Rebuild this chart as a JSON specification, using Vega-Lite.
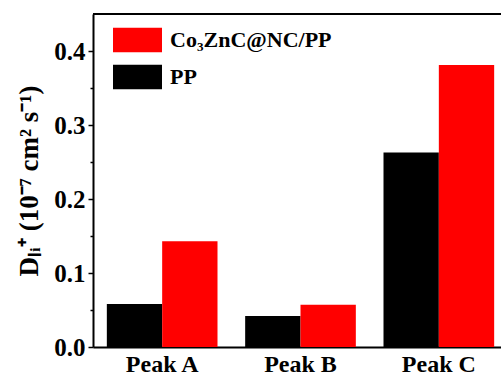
{
  "$schema": "https://vega.github.io/schema/vega-lite/v6.json",
  "autosize": {"type": "none"},
  "padding": {"left": 93, "top": 14, "right": 0, "bottom": 30},
  "width": 408,
  "height": 333,
  "background": "white",
  "config": {
    "view": {"stroke": null},
    "font": "Times New Roman, Liberation Serif, serif",
    "axis": {"labelFont": "Times New Roman, Liberation Serif, serif", "titleFont": "Times New Roman, Liberation Serif, serif", "labelFontWeight": "bold", "titleFontWeight": "bold", "labelColor": "black", "titleColor": "black", "domainColor": "black", "tickColor": "black", "grid": false}
  },
  "data": {
    "values": [
      {"peak": "Peak A", "sample": "PP", "D": 0.058},
      {"peak": "Peak A", "sample": "Co₃ZnC@NC/PP", "D": 0.143},
      {"peak": "Peak B", "sample": "PP", "D": 0.042},
      {"peak": "Peak B", "sample": "Co₃ZnC@NC/PP", "D": 0.057},
      {"peak": "Peak C", "sample": "PP", "D": 0.263},
      {"peak": "Peak C", "sample": "Co₃ZnC@NC/PP", "D": 0.381}
    ]
  },
  "layer": [
    {
      "mark": {"type": "bar"},
      "encoding": {
        "x": {
          "field": "peak", "type": "nominal",
          "scale": {"range": [0, 415], "paddingInner": 0.2, "paddingOuter": 0.1},
          "axis": {"title": null, "labelAngle": 0, "labelFontSize": 24, "ticks": false, "domainWidth": 2, "labelPadding": 5}
        },
        "xOffset": {"field": "sample", "type": "nominal", "sort": ["PP", "Co₃ZnC@NC/PP"]},
        "y": {
          "field": "D", "type": "quantitative",
          "scale": {"domain": [0, 0.45], "nice": false},
          "axis": {"values": [0, 0.1, 0.2, 0.3, 0.4], "format": ".1f", "labelFontSize": 25, "tickSize": 5, "tickWidth": 1.5, "domainWidth": 2, "labelPadding": 3,
            "title": "Dₗᵢ⁺ (10⁻⁷ cm² s⁻¹)", "titleFontSize": 27, "titlePadding": 10}
        },
        "color": {
          "field": "sample", "type": "nominal",
          "scale": {"domain": ["Co₃ZnC@NC/PP", "PP"], "range": ["#ff0000", "#000000"]},
          "legend": {
            "title": null, "orient": "none", "legendX": 20, "legendY": 1.5, "padding": 0,
            "symbolType": "M-1,-0.5H1V0.5H-1Z", "symbolSize": 2401, "symbolStrokeWidth": 0,
            "labelFont": "Times New Roman, Liberation Serif, serif", "labelFontWeight": "bold", "labelFontSize": 22, "labelColor": "black",
            "labelLimit": 400, "rowPadding": -16.5, "labelOffset": 8
          }
        }
      }
    },
    {
      "mark": {"type": "rule", "color": "black", "strokeWidth": 2},
      "encoding": {
        "y": {"datum": 0.45, "type": "quantitative",
          "axis": {"orient": "left", "values": [0.05, 0.15, 0.25, 0.35], "labels": false, "domain": false, "tickSize": 3, "tickWidth": 1.5, "title": null}}
      }
    }
  ],
  "resolve": {"axis": {"y": "independent"}}
}
